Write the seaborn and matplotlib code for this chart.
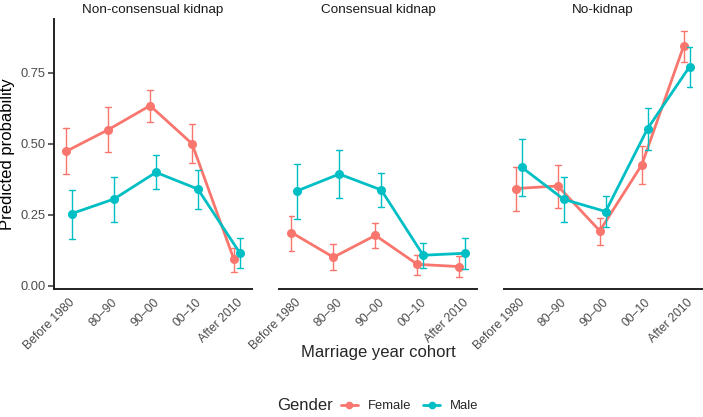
import pandas as pd
import numpy as np
import seaborn as sns
import matplotlib.pyplot as plt
from matplotlib.lines import Line2D

cohorts = ["Before 1980", "80–90", "90–00", "00–10", "After 2010"]
panels = ["Non-consensual kidnap", "Consensual kidnap", "No-kidnap"]
genders = ["Female", "Male"]
colors = {"Female": "#F8766D", "Male": "#00BFC4"}

# predicted probability, lower and upper CI per panel and gender
female_est = [[0.473, 0.549, 0.634, 0.500, 0.092],
              [0.187, 0.100, 0.177, 0.075, 0.067],
              [0.342, 0.351, 0.193, 0.425, 0.844]]
female_lo = [[0.393, 0.470, 0.575, 0.432, 0.047],
             [0.121, 0.055, 0.132, 0.038, 0.030],
             [0.264, 0.274, 0.143, 0.358, 0.789]]
female_hi = [[0.554, 0.628, 0.690, 0.568, 0.134],
             [0.246, 0.147, 0.222, 0.108, 0.105],
             [0.419, 0.426, 0.237, 0.493, 0.898]]
male_est = [[0.254, 0.305, 0.399, 0.340, 0.115],
            [0.334, 0.393, 0.337, 0.107, 0.114],
            [0.417, 0.304, 0.261, 0.553, 0.771]]
male_lo = [[0.164, 0.225, 0.340, 0.271, 0.062],
           [0.236, 0.308, 0.278, 0.062, 0.060],
           [0.316, 0.223, 0.206, 0.478, 0.699]]
male_hi = [[0.338, 0.383, 0.461, 0.408, 0.167],
           [0.429, 0.478, 0.396, 0.151, 0.168],
           [0.518, 0.382, 0.316, 0.625, 0.842]]

# long table: each point gets lower / estimate / upper rows,
# median gives the estimate and the 0-100 percentile interval gives the CI
rows = []
for p, panel in enumerate(panels):
    for g, (est, lo, hi) in zip(genders, [(female_est, female_lo, female_hi),
                                          (male_est, male_lo, male_hi)]):
        for i, c in enumerate(cohorts):
            for v in (lo[p][i], est[p][i], hi[p][i]):
                rows.append({"panel": panel, "Gender": g, "cohort": c, "prob": v})
df = pd.DataFrame(rows)

sns.set_style("white")
plt.rcParams['font.family'] = ['Liberation Sans', 'DejaVu Sans']

fig = plt.figure(figsize=(7.03, 4.17), dpi=100)
lefts = [54, 279.3, 503.7]
for k, panel in enumerate(panels):
    ax = fig.add_axes([lefts[k] / 703, 1 - 289.3 / 417, 198 / 703, (289.3 - 18.5) / 417])
    sub = df[df["panel"] == panel]
    sns.pointplot(data=sub, x="cohort", y="prob", hue="Gender", order=cohorts,
                  hue_order=genders, palette=colors, estimator="median",
                  errorbar=("pi", 100), dodge=0.14, capsize=0.14,
                  markers="o", markersize=5, linewidth=2,
                  err_kws={"linewidth": 1}, ax=ax, legend=False)
    ax.set_xlim(-0.36, 4.36)
    ax.set_ylim(-0.013, 0.941)
    ax.set_title(panel, fontsize=9.7, color="#1A1A1A", pad=4)
    ax.set_xlabel("")
    ax.set_ylabel("")
    for s in ["top", "right"]:
        ax.spines[s].set_visible(False)
    ax.spines["bottom"].set_color("#222222")
    ax.spines["bottom"].set_linewidth(1.4)
    ax.tick_params(axis="x", length=4, width=1.1, color="#333333",
                   labelsize=8.8, labelcolor="#4D4D4D", pad=1)
    plt.setp(ax.get_xticklabels(), rotation=45, ha="right", rotation_mode="anchor")
    if k == 0:
        ax.set_yticks([0, 0.25, 0.5, 0.75])
        ax.set_yticklabels(["0.00", "0.25", "0.50", "0.75"])
        ax.spines["left"].set_color("#222222")
        ax.spines["left"].set_linewidth(1.4)
        ax.tick_params(axis="y", length=4, width=1.1, color="#333333",
                       labelsize=9.3, labelcolor="#4D4D4D", pad=2, left=True)
        ax.set_ylabel("Predicted probability", fontsize=12, color="#000000", labelpad=4)
    else:
        ax.spines["left"].set_visible(False)
        ax.set_yticks([])

fig.text(378 / 703, 1 - 353 / 417, "Marriage year cohort", ha="center", va="center",
         fontsize=12)

# legend at the bottom: title on the left, entries in a row
fig.text(277 / 703, 1 - 406 / 417, "Gender", ha="left", va="center", fontsize=12)
handles = [Line2D([0], [0], color=colors[g], marker="o", markersize=4.5, linewidth=2)
           for g in genders]
fig.legend(handles, genders, loc="center left", bbox_to_anchor=(341 / 703, 1 - 406 / 417),
           ncol=2, frameon=False, fontsize=9.4, borderpad=0, borderaxespad=0,
           handlelength=1.3, handletextpad=0.75, columnspacing=0.9)

fig.savefig("out.png", dpi=100)
